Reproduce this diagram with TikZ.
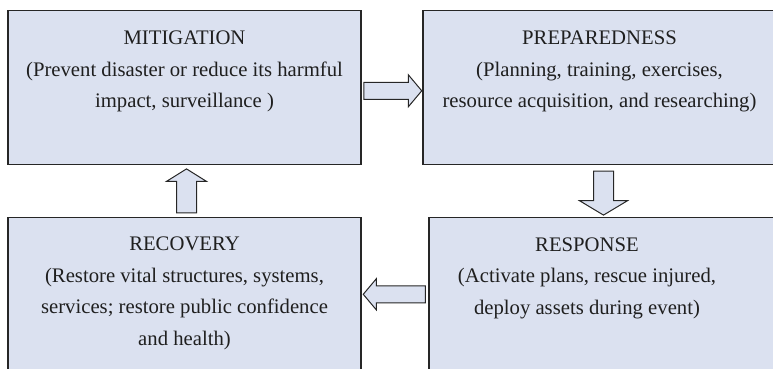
\documentclass[tikz,border=0pt]{standalone}
\usepackage{fontspec}
\setmainfont{Liberation Serif}
\usetikzlibrary{shapes.arrows}
\definecolor{phasefill}{RGB}{219,225,240}
\definecolor{phaseline}{HTML}{262626}

\begin{document}
\begin{tikzpicture}[x=1pt,y=1pt,
    phase/.style={draw=phaseline,fill=phasefill,line width=1.2pt,minimum width=353pt,minimum height=154pt,inner sep=0pt},
    phasetext/.style={anchor=north,align=center,inner sep=0pt,text=black!88,font=\fontsize{20.7}{31.5}\selectfont},
    cyclearrow/.style={single arrow,draw=phaseline,fill=phasefill,line width=1pt,inner sep=0pt,single arrow head indent=0pt}]
  \clip (0,0) rectangle (773,368);
  \node[phase] (mit) at (184.5,280.7) {};
  \node[phase] (prep) at (599.5,280.7) {};
  \node[phase] (rec) at (184.5,73.7) {};
  \node[phase] (resp) at (605.5,73.7) {};
  \node[phasetext] (mittxt) at ([yshift=-21pt]mit.north) {MITIGATION\\(Prevent disaster or reduce its harmful\\impact, surveillance )};
  \node[phasetext] (preptxt) at ([yshift=-21pt]prep.north) {PREPAREDNESS\\(Planning, training, exercises,\\resource acquisition, and researching)};
  \node[phasetext] (rectxt) at ([yshift=-20pt]rec.north) {RECOVERY\\(Restore vital structures, systems,\\services; restore public confidence\\and health)};
  \node[phasetext] (resptxt) at ([xshift=-18.5pt,yshift=-20.5pt]resp.north) {RESPONSE\\(Activate plans, rescue injured,\\deploy assets during event)};
  \node[cyclearrow,minimum height=58pt,inner ysep=8pt,single arrow head extend=7.5pt,single arrow tip angle=100,anchor=tip] (mit2prep) at ([yshift=-3.5pt]prep.west) {};
  \node[cyclearrow,shape border rotate=270,minimum height=44pt,inner xsep=9.5pt,single arrow head extend=14pt,single arrow tip angle=118,anchor=tail] (prep2resp) at ([xshift=4pt,yshift=-5.7pt]prep.south) {};
  \node[cyclearrow,shape border rotate=180,minimum height=62pt,inner ysep=8pt,single arrow head extend=7pt,single arrow tip angle=100,anchor=tip] (resp2rec) at ([xshift=1pt]rec.east) {};
  \node[cyclearrow,shape border rotate=90,minimum height=44pt,inner xsep=9.5pt,single arrow head extend=10pt,single arrow tip angle=116,anchor=tail] (rec2mit) at ([xshift=2pt,yshift=3.3pt]rec.north) {};
\end{tikzpicture}
\end{document}
